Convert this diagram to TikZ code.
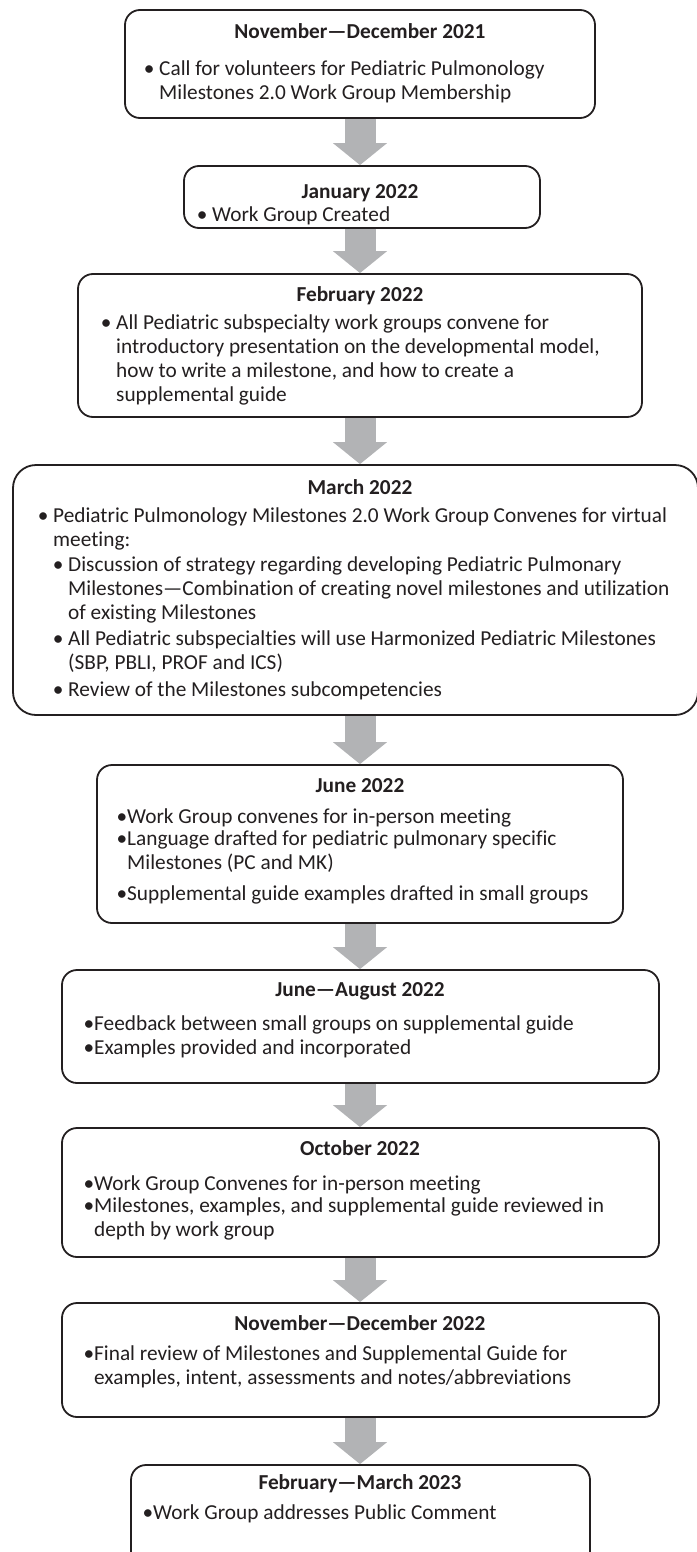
\documentclass[tikz,border=0pt]{standalone}
\usepackage{fontspec}
\setmainfont{Carlito}[Ligatures=NoCommon]
\usetikzlibrary{arrows.meta}
\definecolor{ink}{HTML}{231F20}
\definecolor{arrowgray}{HTML}{B2B3B5}
\begin{document}
\begin{tikzpicture}[x=1pt,y=-1pt,
  box/.style={draw=ink, line width=1.8pt, rounded corners=15pt, fill=white, inner sep=0pt},
  hdr/.style={font=\fontsize{21.3}{24}\selectfont\bfseries, text=ink, inner sep=0pt, anchor=base},
  body/.style={font=\fontsize{21.3}{24}\selectfont, text=ink, inner sep=0pt, align=left, anchor=north west,
    execute at begin node={\rule{0pt}{17pt}}},
  flow/.style={line width=31pt, draw=arrowgray, -{Triangle[width=53pt,length=22pt]}}
]
\useasboundingbox (0,0) rectangle (696,1552);
\coordinate (spine) at (360,0);

% boxes
\node[box, minimum width=470pt, minimum height=108pt] (b1) at (360,64) {};
\node[box, minimum width=356pt, minimum height=62pt] (b2) at (362,197) {};
\node[box, minimum width=564pt, minimum height=143pt] (b3) at (360,345.5) {};
\node[box, rounded corners=23pt, minimum width=685pt, minimum height=250pt] (b4) at (355.5,590) {};
\node[box, minimum width=526pt, minimum height=158pt] (b5) at (360,844) {};
\node[box, minimum width=597pt, minimum height=113pt] (b6) at (360.5,1026.5) {};
\node[box, minimum width=597pt, minimum height=129pt] (b7) at (360.5,1192.5) {};
\node[box, minimum width=597pt, minimum height=114pt] (b8) at (360.5,1360) {};
\node[box, minimum width=459pt, minimum height=155pt] (b9) at (360.5,1542.5) {};

% arrows
\draw[flow] (b1.south -| spine) -- (b2.north -| spine);
\draw[flow] (b2.south -| spine) -- (b3.north -| spine);
\draw[flow] (b3.south -| spine) -- (b4.north -| spine);
\draw[flow] (b4.south -| spine) -- (b5.north -| spine);
\draw[flow] (b5.south -| spine) -- (b6.north -| spine);
\draw[flow] (b6.south -| spine) -- (b7.north -| spine);
\draw[flow] (b7.south -| spine) -- (b8.north -| spine);
\draw[flow] (b8.south -| spine) -- (b9.north -| spine);

% box 1
\node[hdr] (h1) at (360,39) {November—December 2021};
\node[body] (t1) at (159,61) {\llap{•\ }Call for volunteers for Pediatric Pulmonology\\Milestones 2.0 Work Group Membership};
% box 2
\node[hdr] (h2) at (360,198) {January 2022};
\node[body] (t2) at (212,204) {\llap{•\ }Work Group Created};
% box 3
\node[hdr] (h3) at (360,301) {February 2022};
\node[body] (t3) at (116,315) {\llap{•\ }All Pediatric subspecialty work groups convene for\\introductory presentation on the developmental model,\\how to write a milestone, and how to create a\\supplemental guide};
% box 4
\node[hdr] (h4) at (360,494) {March 2022};
\node[body] (t4a) at (53,508) {\llap{•\ }Pediatric Pulmonology Milestones 2.0 Work Group Convenes for virtual\\meeting:};
\node[body] (t4b) at (68,557) {\llap{•\ }Discussion of strategy regarding developing Pediatric Pulmonary\\Milestones—Combination of creating novel milestones and utilization\\of existing Milestones};
\node[body] (t4c) at (68,631) {\llap{•\ }All Pediatric subspecialties will use Harmonized Pediatric Milestones\\(SBP, PBLI, PROF and ICS)};
\node[body] (t4d) at (68,679) {\llap{•\ }Review of the Milestones subcompetencies};
% box 5
\node[hdr] (h5) at (360,792) {June 2022};
\node[body] (t5a) at (127,806) {\llap{•}Work Group convenes for in-person meeting};
\node[body] (t5b) at (127,831) {\llap{•}Language drafted for pediatric pulmonary specific\\Milestones (PC and MK)};
\node[body] (t5c) at (127,883) {\llap{•}Supplemental guide examples drafted in small groups};
% box 6
\node[hdr] (h6) at (360,996) {June—August 2022};
\node[body] (t6a) at (94,1013) {\llap{•}Feedback between small groups on supplemental guide};
\node[body] (t6b) at (94,1037) {\llap{•}Examples provided and incorporated};
% box 7
\node[hdr] (h7) at (360,1155) {October 2022};
\node[body] (t7a) at (94,1173) {\llap{•}Work Group Convenes for in-person meeting};
\node[body] (t7b) at (94,1197) {\llap{•}Milestones, examples, and supplemental guide reviewed in\\depth by work group};
% box 8
\node[hdr] (h8) at (360,1330) {November—December 2022};
\node[body] (t8) at (94,1345) {\llap{•}Final review of Milestones and Supplemental Guide for\\examples, intent, assessments and notes/abbreviations};
% box 9
\node[hdr] (h9) at (360,1489) {February—March 2023};
\node[body] (t9) at (153,1502) {\llap{•}Work Group addresses Public Comment};
\end{tikzpicture}
\end{document}
